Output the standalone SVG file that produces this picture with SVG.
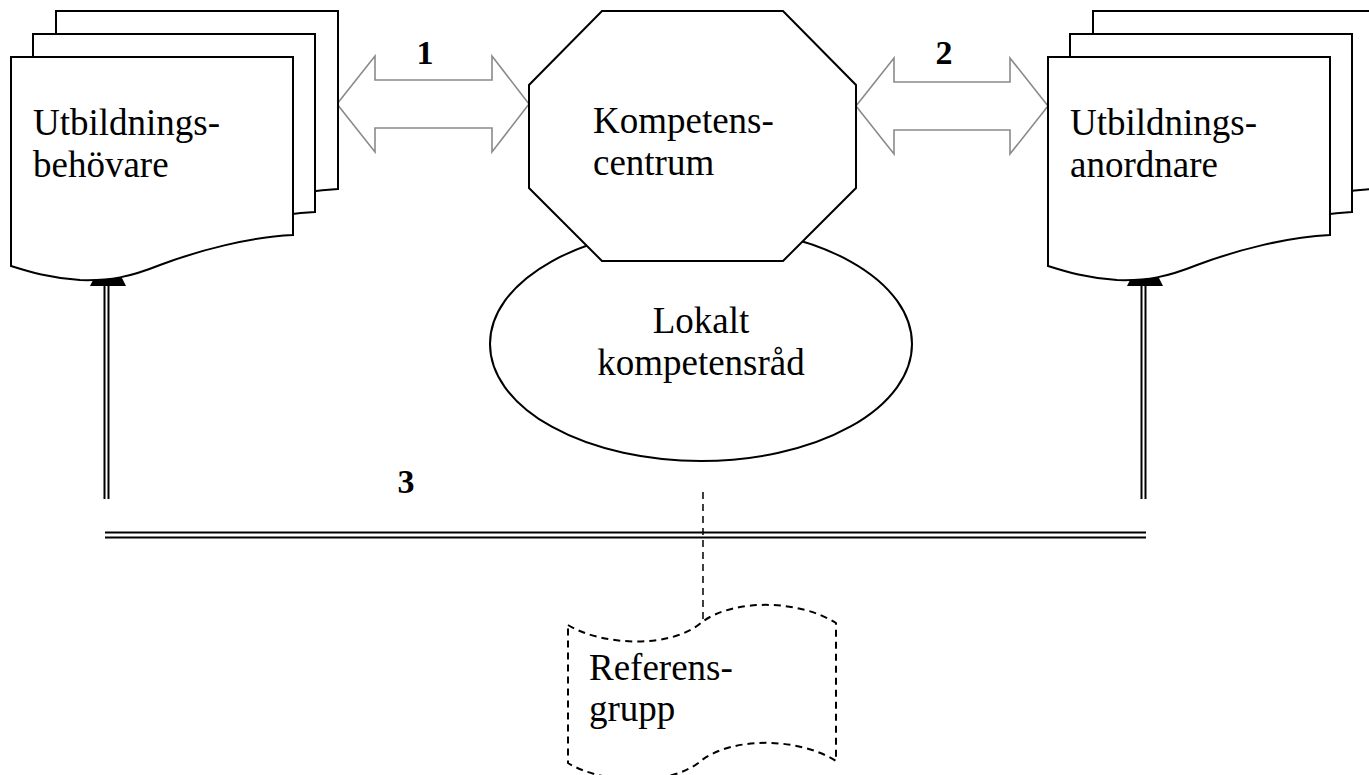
<svg xmlns="http://www.w3.org/2000/svg" xmlns:xlink="http://www.w3.org/1999/xlink" width="1369" height="775" viewBox="0 0 1369 775">
<style>
.ln{fill:none;stroke:#000;stroke-width:2}
.shape{fill:#fff;stroke:#000;stroke-width:2;stroke-linejoin:miter}
.big{fill:none;stroke:#8a8a8a;stroke-width:1.6}
.t{font-family:"Liberation Serif","Times New Roman",serif;font-size:37px;fill:#000}
.n{font-family:"Liberation Serif","Times New Roman",serif;font-size:34px;font-weight:bold;fill:#000}
.dash{fill:#fff;stroke:#000;stroke-width:2;stroke-dasharray:7,5}
</style>
<defs>
<path id="doc" d="M11,57 H293 V235 C250,237 200,250 160,265 C130,277 110,281 80,280 C50,278 30,272 11,266 Z"/>
</defs>
<g id="connectors">
<polygon class="big" points="337,104 375,56 375,80 492,80 492,56 529,104 492,152 492,128 375,128 375,152"/>
<polygon class="big" points="856,106 894,58 894,82 1010,82 1010,58 1048,106 1010,154 1010,130 894,130 894,154"/>
<line class="ln" x1="104.5" y1="282" x2="104.5" y2="499"/>
<line class="ln" x1="108.5" y1="282" x2="108.5" y2="499"/>
<polygon points="90,286 126,286 108,250" fill="#000"/>
<line class="ln" x1="1141.5" y1="282" x2="1141.5" y2="499"/>
<line class="ln" x1="1145.5" y1="282" x2="1145.5" y2="499"/>
<polygon points="1127,286 1163,286 1145,250" fill="#000"/>
<line class="ln" x1="105" y1="532.5" x2="1146" y2="532.5"/>
<line class="ln" x1="105" y1="537.5" x2="1146" y2="537.5"/>
<line x1="703" y1="492" x2="703" y2="623" stroke="#000" stroke-width="1.5" stroke-dasharray="7,5"/>
<text class="n" x="425" y="64" text-anchor="middle">1</text>
<text class="n" x="944" y="64" text-anchor="middle">2</text>
<text class="n" x="406" y="493" text-anchor="middle">3</text>
</g>
<g id="utbildningsbehovare">
<use xlink:href="#doc" class="shape" transform="translate(45,-46)"/>
<use xlink:href="#doc" class="shape" transform="translate(22,-23)"/>
<use xlink:href="#doc" class="shape"/>
<text class="t" x="33" y="135">Utbildnings-</text>
<text class="t" x="33" y="177">behövare</text>
</g>
<g id="utbildningsanordnare">
<use xlink:href="#doc" class="shape" transform="translate(1082,-46)"/>
<use xlink:href="#doc" class="shape" transform="translate(1059,-23)"/>
<use xlink:href="#doc" class="shape" transform="translate(1037,0)"/>
<text class="t" x="1070" y="135">Utbildnings-</text>
<text class="t" x="1070" y="177">anordnare</text>
</g>
<g id="lokalt-kompetensrad">
<ellipse class="shape" cx="701" cy="344" rx="211" ry="117"/>
<text class="t" x="701" y="333" text-anchor="middle">Lokalt</text>
<text class="t" x="701" y="375" text-anchor="middle">kompetensråd</text>
</g>
<g id="kompetenscentrum">
<polygon class="shape" points="602,11 783,11 856,85 856,188 783,261 602,261 529,188 529,85"/>
<text class="t" x="593" y="133">Kompetens-</text>
<text class="t" x="593" y="175">centrum</text>
</g>
<g id="referensgrupp">
<path class="dash" d="M568,625 C600,645 670,650 702,622 C735,598 800,600 836,623 V761 C800,738 735,736 702,760 C670,788 600,783 568,763 Z"/>
<text class="t" x="589" y="680">Referens-</text>
<text class="t" x="589" y="721">grupp</text>
</g>
</svg>
